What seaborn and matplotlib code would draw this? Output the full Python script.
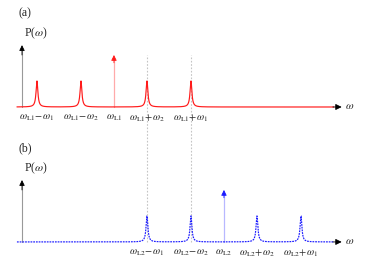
import numpy as np
import seaborn as sns
from matplotlib import pyplot as plt

# frequencies (arbitrary units)
w1 = 7.0
w2 = 3.0
wL1 = 10.0
wL2 = 20.0

peaks_a = [wL1 - w1, wL1 - w2, wL1 + w2, wL1 + w1]
labels_a = [r'$\omega_{\rm L1}\!-\!\omega_1$', r'$\omega_{\rm L1}\!-\!\omega_2$',
            r'$\omega_{\rm L1}\!+\!\omega_2$', r'$\omega_{\rm L1}\!+\!\omega_1$']
peaks_b = [wL2 - w1, wL2 - w2, wL2 + w2, wL2 + w1]
labels_b = [r'$\omega_{\rm L2}\!-\!\omega_1$', r'$\omega_{\rm L2}\!-\!\omega_2$',
            r'$\omega_{\rm L2}\!+\!\omega_2$', r'$\omega_{\rm L2}\!+\!\omega_1$']
carrier_a = (wL1, r'$\omega_{\rm L1}$')
carrier_b = (wL2, r'$\omega_{\rm L2}$')
sideband_h = 1.0
carrier_h = 2.0
gamma = 0.1


def spectrum(x, centers):
    y = np.zeros_like(x)
    for c in centers:
        y += sideband_h * gamma**2 / ((x - c)**2 + gamma**2)
    return y


def panel(ax, base, centers, carrier, labels, color, ls, shaft, tag):
    x = np.arange(1.18, 30.0, 0.004)
    y = base + spectrum(x, centers)
    sns.lineplot(x=x, y=y, ax=ax, color=color, lw=0.85, linestyle=ls,
                 estimator=None, sort=False, zorder=3)
    # omega axis arrow head
    ax.annotate('', xy=(30.7, base), xytext=(29.9, base),
                arrowprops=dict(arrowstyle='-|>', color='black', lw=0.6,
                                mutation_scale=9, shrinkA=0, shrinkB=0))
    ax.text(31.0, base, r'$\omega$', fontsize=8, va='center', ha='left')
    # P(omega) axis
    ax.plot([1.64, 1.64], [base, base + 2.2], color='#999999', lw=0.8)
    ax.annotate('', xy=(1.64, base + 2.38), xytext=(1.64, base + 2.0),
                arrowprops=dict(arrowstyle='-|>', color='black', lw=0.6,
                                mutation_scale=8, shrinkA=0, shrinkB=0))
    ax.text(2.9, base + 2.85, r'P($\omega$)', fontsize=8.5, ha='center', va='center')
    ax.text(1.9, base + 3.62, tag, fontsize=8.5, ha='center', va='center')
    # carrier arrow
    cx, clab = carrier
    ax.plot([cx, cx], [base, base + carrier_h - 0.15], color=shaft, lw=0.9, zorder=2)
    ax.annotate('', xy=(cx, base + carrier_h), xytext=(cx, base + carrier_h - 0.3),
                arrowprops=dict(arrowstyle='-|>', color=color, lw=0.6,
                                mutation_scale=8, shrinkA=0, shrinkB=0))
    for c, lab in zip(centers[:2] + [cx] + centers[2:], labels[:2] + [clab] + labels[2:]):
        ax.text(c, base - 0.42, lab, fontsize=7.5, ha='center', va='center')


sns.set_style('white')
plt.rcParams['font.family'] = ['Liberation Serif', 'DejaVu Serif']
plt.rcParams['mathtext.fontset'] = 'stix'

fig = plt.figure(figsize=(3.74, 2.63), dpi=100)
ax = fig.add_axes([0, 0, 1, 1])
ax.set_xlim(-0.36, 33.64)
ax.set_ylim(0, 10.115)
ax.axis('off')

base_a = 6.0
base_b = 0.81

# guide lines linking the two panels
for c in [wL1 + w2, wL1 + w1]:
    ax.plot([c, c], [base_b, base_a + 2.0], color='#c4c4c4', lw=0.8,
            linestyle=(0, (1.5, 1.5)), zorder=1)

panel(ax, base_a, peaks_a, carrier_a, labels_a, '#ff1a1a', '-', '#ffaaaa', '(a)')
panel(ax, base_b, peaks_b, carrier_b, labels_b, '#1a1aff', (0, (1.5, 0.8)), '#b8b8ff', '(b)')

fig.savefig('out.png', dpi=100)
